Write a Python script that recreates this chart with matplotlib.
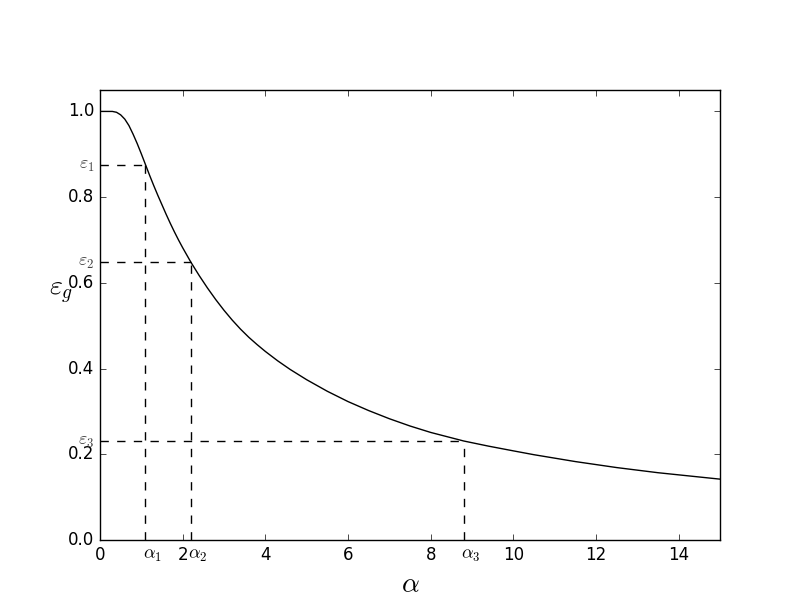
import matplotlib
matplotlib.use('Agg')
import matplotlib.pyplot as plt

# curve
alpha = [0.0, 0.2, 0.3, 0.4, 0.5, 0.6, 0.7, 0.8, 0.9, 1.0, 1.1, 1.2, 1.3,
         1.4, 1.5, 1.6, 1.7, 1.8, 1.9, 2.0, 2.1, 2.2, 2.4, 2.6, 2.8, 3.0,
         3.2, 3.4, 3.6, 3.8, 4.0, 4.3, 4.6, 5.0, 5.5, 6.0, 6.5, 7.0, 7.5,
         8.0, 8.8, 9.4, 10.0, 10.5, 11.0, 11.5, 12.0, 12.5, 13.0, 13.5,
         14.0, 14.5, 15.0]
eps_g = [1.0, 1.0, 1.0, 0.998, 0.992, 0.982, 0.967, 0.947, 0.925, 0.901,
         0.876, 0.851, 0.827, 0.804, 0.782, 0.760, 0.739, 0.719, 0.700,
         0.682, 0.665, 0.648, 0.617, 0.588, 0.561, 0.536, 0.513, 0.492,
         0.473, 0.456, 0.440, 0.418, 0.398, 0.374, 0.347, 0.323, 0.302,
         0.283, 0.266, 0.251, 0.231, 0.219, 0.208, 0.199, 0.191, 0.183,
         0.176, 0.169, 0.163, 0.157, 0.152, 0.147, 0.142]

# marked points
mark_alpha = [1.1, 2.2, 8.8]
mark_eps = [0.876, 0.648, 0.231]
alpha_names = [r'$\alpha_1$', r'$\alpha_2$', r'$\alpha_3$']
eps_names = [r'$\varepsilon_1$', r'$\varepsilon_2$', r'$\varepsilon_3$']

plt.style.use('classic')

fig = plt.figure(figsize=(8, 6), dpi=100, facecolor='white')
ax = fig.add_axes([0.125, 0.1, 0.775, 0.75])

ax.plot(alpha, eps_g, 'k-', lw=1.0)

for a, e in zip(mark_alpha, mark_eps):
    ax.plot([a, a], [0, e], 'k--', lw=1.0)
    ax.plot([0, a], [e, e], 'k--', lw=1.0)

for a, name in zip(mark_alpha, alpha_names):
    ax.annotate(name, xy=(a, 0), xytext=(-2, -4), textcoords='offset points',
                ha='left', va='top', fontsize=13)

for e, name in zip(mark_eps, eps_names):
    ax.annotate(name, xy=(0, e), xytext=(-4, 0), textcoords='offset points',
                ha='right', va='center', fontsize=13, color='#444444')

ax.set_xlim(0, 15)
ax.set_ylim(0, 1.05)
ax.set_xticks(range(0, 15, 2))
ax.set_yticks([0.0, 0.2, 0.4, 0.6, 0.8, 1.0])

ax.set_xlabel(r'$\alpha$', fontsize=20)
ax.set_ylabel(r'$\varepsilon_g$', fontsize=20, rotation=0, ha='center', va='center')
ax.yaxis.set_label_coords(-0.062, 0.55)

fig.savefig('out.png', dpi=100, facecolor='white')
